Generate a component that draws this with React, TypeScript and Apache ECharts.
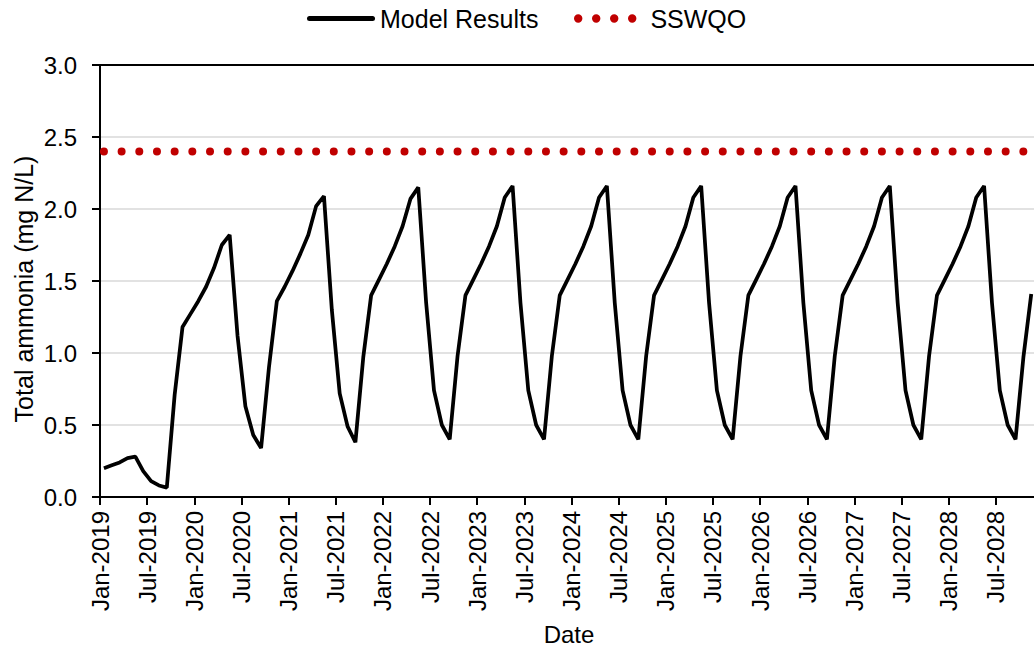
import React, { useEffect, useRef } from "react";
import * as echarts from "echarts";

const FONT = "'Liberation Sans', Arial, sans-serif";

// Monthly model results (mg N/L), one array per year, Jan..Dec
const startYear = 2019;
const monthNames = ["Jan", "Feb", "Mar", "Apr", "May", "Jun", "Jul", "Aug", "Sep", "Oct", "Nov", "Dec"];
const v2019 = [0.2, 0.22, 0.24, 0.27, 0.28, 0.18, 0.11, 0.08, 0.065, 0.71, 1.18, 1.27];
const v2020 = [1.36, 1.46, 1.59, 1.75, 1.82, 1.12, 0.63, 0.43, 0.34, 0.9, 1.36, 1.46];
const v2021 = [1.57, 1.69, 1.82, 2.02, 2.09, 1.3, 0.72, 0.49, 0.38, 0.97, 1.4, 1.51];
const v2022 = [1.62, 1.74, 1.88, 2.07, 2.15, 1.35, 0.74, 0.5, 0.4, 0.98, 1.4, 1.51];
const v2023 = [1.62, 1.74, 1.88, 2.08, 2.16, 1.35, 0.74, 0.5, 0.4, 0.98, 1.4, 1.51];
const v2024 = [1.62, 1.74, 1.88, 2.08, 2.16, 1.35, 0.74, 0.5, 0.4, 0.98, 1.4, 1.51];
const v2025 = [1.62, 1.74, 1.88, 2.08, 2.16, 1.35, 0.74, 0.5, 0.4, 0.98, 1.4, 1.51];
const v2026 = [1.62, 1.74, 1.88, 2.08, 2.16, 1.35, 0.74, 0.5, 0.4, 0.98, 1.4, 1.51];
const v2027 = [1.62, 1.74, 1.88, 2.08, 2.16, 1.35, 0.74, 0.5, 0.4, 0.98, 1.4, 1.51];
const v2028 = [1.62, 1.74, 1.88, 2.08, 2.16, 1.35, 0.74, 0.5, 0.4, 0.97, 1.41];
const sswqo = 2.4;

const modelValues = [
  ...v2019, ...v2020, ...v2021, ...v2022, ...v2023,
  ...v2024, ...v2025, ...v2026, ...v2027, ...v2028,
];
// Month index of x axis end (visible window)
const xMax = 118.85;

// Legend icons
const lineIcon = "path://M2.5,0H65.5A2.5,2.5,0,0,1,65.5,5H2.5A2.5,2.5,0,0,1,2.5,0Z";
const dotsIcon =
  "path://M0,4.2A4.2,4.2,0,1,0,8.4,4.2A4.2,4.2,0,1,0,0,4.2Z" +
  "M18,4.2A4.2,4.2,0,1,0,26.4,4.2A4.2,4.2,0,1,0,18,4.2Z" +
  "M36,4.2A4.2,4.2,0,1,0,44.4,4.2A4.2,4.2,0,1,0,36,4.2Z" +
  "M54,4.2A4.2,4.2,0,1,0,62.4,4.2A4.2,4.2,0,1,0,54,4.2Z";

export default function App() {
  const ref = useRef<HTMLDivElement>(null);
  useEffect(() => {
    if (!ref.current) return;
    const chart = echarts.init(ref.current, undefined, { renderer: "svg" });
    const modelData = modelValues.map((v, i) => [i + 0.5, v]);
    const sswqoData = modelValues.map((_, i) => [i + 0.5, sswqo]);
    const labelFor = (val: number) => {
      const r = Math.round(val);
      if (Math.abs(val - r) > 1e-6 || r % 6 !== 0) return "";
      return monthNames[r % 12] + "-" + (startYear + Math.floor(r / 12));
    };
    chart.setOption({
      animation: false,
      textStyle: { fontFamily: FONT },
      legend: [
        {
          data: [{ name: "Model Results", icon: lineIcon }],
          left: 307,
          top: 6,
          padding: 0,
          itemWidth: 68,
          itemHeight: 5,
          symbolKeepAspect: false,
          selectedMode: false,
          itemStyle: { borderWidth: 0 },
          textStyle: { fontSize: 25, color: "#000", fontFamily: FONT },
        },
        {
          data: [{ name: "SSWQO", icon: dotsIcon }],
          left: 574,
          top: 6,
          padding: 0,
          itemWidth: 62.4,
          itemHeight: 8.4,
          symbolKeepAspect: false,
          selectedMode: false,
          itemStyle: { borderWidth: 0 },
          textStyle: { fontSize: 25, color: "#000", fontFamily: FONT, padding: [0, 0, 0, 9] },
        },
      ],
      grid: { left: 100, right: 0, top: 65, bottom: 153, outerBoundsMode: "none" },
      xAxis: [
        {
          type: "value",
          min: 0,
          max: xMax,
          interval: 6,
          axisLine: { show: true, onZero: false, lineStyle: { color: "#000", width: 2 } },
          axisTick: { show: true, length: 8, lineStyle: { color: "#000", width: 2 } },
          axisLabel: {
            rotate: 90,
            margin: 14,
            fontSize: 24,
            color: "#000",
            fontFamily: FONT,
            padding: [8, 0, 0, 0],
            showMaxLabel: false,
            formatter: labelFor,
          },
          splitLine: { show: false },
        },
        {
          type: "value",
          position: "top",
          min: 0,
          max: xMax,
          interval: 6,
          axisLine: { show: true, onZero: false, lineStyle: { color: "#000", width: 2 } },
          axisTick: { show: false },
          axisLabel: { show: false },
          splitLine: { show: false },
        },
      ],
      yAxis: {
        type: "value",
        min: 0,
        max: 3,
        interval: 0.5,
        axisLine: { show: true, onZero: false, lineStyle: { color: "#000", width: 2 } },
        axisTick: { show: true, length: 8, lineStyle: { color: "#000", width: 2 } },
        axisLabel: {
          margin: 23,
          fontSize: 24,
          color: "#000",
          fontFamily: FONT,
          formatter: (v: number) => v.toFixed(1),
        },
        splitLine: { show: true, lineStyle: { color: "#d9d9d9", width: 1.5 } },
      },
      graphic: [
        {
          type: "text",
          x: 24,
          y: 289,
          rotation: Math.PI / 2,
          style: {
            text: "Total ammonia (mg N/L)",
            fontSize: 25,
            fontFamily: FONT,
            fill: "#000",
            align: "center",
            verticalAlign: "middle",
            textAlign: "center",
            textVerticalAlign: "middle",
          },
        },
        {
          type: "text",
          x: 569,
          y: 634,
          style: {
            text: "Date",
            fontSize: 24,
            fontFamily: FONT,
            fill: "#000",
            align: "center",
            verticalAlign: "middle",
            textAlign: "center",
            textVerticalAlign: "middle",
          },
        },
      ],
      series: [
        {
          name: "Model Results",
          type: "line",
          xAxisIndex: 0,
          data: modelData,
          symbol: "none",
          z: 3,
          lineStyle: { color: "#000", width: 3.75 },
          itemStyle: { color: "#000" },
        },
        {
          name: "SSWQO",
          type: "line",
          xAxisIndex: 0,
          data: sswqoData,
          symbol: "none",
          z: 2,
          lineStyle: { color: "#C00000", width: 8, type: [0.001, 17.68], cap: "round" },
          itemStyle: { color: "#C00000" },
        },
      ],
    });
    return () => chart.dispose();
  }, []);
  return (
    <div
      ref={ref}
      style={{ position: "absolute", left: 0, top: 0, width: 1034, height: 650 }}
    />
  );
}
